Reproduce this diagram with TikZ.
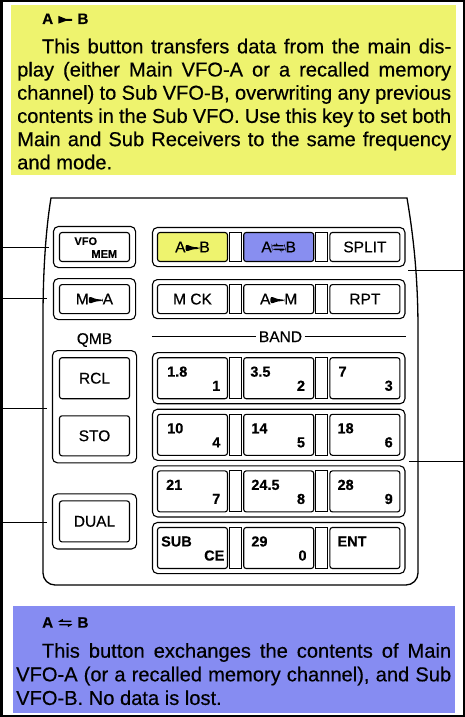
\documentclass[tikz,border=0pt]{standalone}
\usepackage{fontspec}
\setmainfont{Liberation Sans}[FakeBold=0.4]
\usetikzlibrary{positioning,fit}

\definecolor{noteyellow}{RGB}{238,243,110}
\definecolor{noteblue}{RGB}{134,140,242}
\definecolor{keyblue}{RGB}{136,142,240}

% small key symbols
\newcommand{\tosym}{\tikz[baseline=0pt]{\fill (0em,0.03em) -- (0em,0.53em) -- (0.5em,0.33em) -- (0.9em,0.33em)
  -- (0.9em,0.21em) -- (0.5em,0.21em) -- cycle;}}
\newcommand{\swapsym}{\tikz[baseline=0pt]{\fill (0em,0.42em) -- (0.28em,0.58em) -- (0.28em,0.47em) -- (0.85em,0.47em) -- (0.85em,0.38em) -- (0em,0.38em) -- cycle;
  \fill (0.9em,0.2em) -- (0.62em,0.04em) -- (0.62em,0.15em) -- (0.05em,0.15em) -- (0.05em,0.24em) -- (0.9em,0.24em) -- cycle;}}

\begin{document}
\begin{tikzpicture}[x=1pt,y=-1pt,
        key/.style={draw,line width=1.1pt,rounded corners=2.5pt,inner sep=0pt,
          minimum width=70pt,minimum height=29pt,font=\fontsize{15.5}{18}\selectfont},
        numkey/.style={key,minimum height=41pt},
        sepbar/.style={draw,line width=1.1pt,inner sep=0pt,minimum width=12pt,minimum height=29pt},
        numsep/.style={sepbar,minimum height=41pt},
        grp/.style={draw,line width=1.1pt,rounded corners=5pt,inner sep=4.5pt},
        tl/.style={anchor=base west,inner sep=0pt,xshift=8pt,yshift=-19.5pt,font=\bfseries\fontsize{14.5}{17}\selectfont},
        br/.style={anchor=base east,inner sep=0pt,xshift=-7.5pt,yshift=8.5pt,font=\bfseries\fontsize{14.5}{17}\selectfont},
        keytag/.style={inner sep=0pt,font=\bfseries\fontsize{11}{13}\selectfont},
        note/.style={anchor=base west,inner sep=0pt,text width=434pt,align=justify,font=\fontsize{20.1}{23.2}\selectfont},
        notetitle/.style={anchor=base west,inner sep=0pt,font=\bfseries\fontsize{15.2}{18}\selectfont},
        callout/.style={line width=0.9pt}]
        \useasboundingbox (0,0) rectangle (465,717);
        \fill[white] (0,0) rectangle (465,717);

        % A to B note
        \fill[noteyellow] (11,5) rectangle (456,175);
        \node[notetitle] (ttlab) at (42,24) {A\hspace{0.35em}\tosym\hspace{0.35em}B};
        \node[note] (txtab) at (17,53.3) {\tolerance=10000\hspace*{24.7pt}This button transfers data from the main dis-\linebreak
          play (either Main VFO-A or a recalled memory\linebreak
          channel) to Sub VFO-B, overwriting any previous\linebreak
          contents in the Sub VFO. Use this key to set both\linebreak
          Main and Sub Receivers to the same frequency\linebreak
          and mode.};

        % panel
        \draw[line width=1.3pt] (51,198) -- (407,198) .. controls (412,228) and (418,270) .. (418,330)
          [rounded corners=12pt] -- (418,585) -- (43,585) -- (43,330) [sharp corners]
          .. controls (43,270) and (46,228) .. (51,198) -- cycle;

        % top rows
        \node[key,fill=noteyellow] (ab) at (192.5,247) {A\tosym B};
        \node[sepbar] (s1) [right=1pt of ab] {};
        \node[key,fill=keyblue] (swap) [right=1pt of s1] {A\swapsym B};
        \node[sepbar] (s2) [right=1pt of swap] {};
        \node[key] (split) [right=1pt of s2] {SPLIT};
        \node[key] (mck) [below=22pt of ab] {M CK};
        \node[sepbar] (s3) [right=1pt of mck] {};
        \node[key] (am) [right=1pt of s3] {A\tosym M};
        \node[sepbar] (s4) [right=1pt of am] {};
        \node[key] (rpt) [right=1pt of s4] {RPT};

        % band keys
        \node[numkey,label={[tl,xshift=2pt]north west:1.8},label={[br]south east:1}] (b1) [below=43pt of mck] {};
        \node[numsep] (s5) [right=1pt of b1] {};
        \node[numkey,label={[tl,xshift=-1pt]north west:3.5},label={[br,xshift=-1.5pt]south east:2}] (b2) [right=1pt of s5] {};
        \node[numsep] (s6) [right=1pt of b2] {};
        \node[numkey,label={[tl,xshift=1pt]north west:7},label={[br]south east:3}] (b3) [right=1pt of s6] {};
        \node[numkey,label={[tl,xshift=2pt]north west:10},label={[br]south east:4}] (b4) [below=14.5pt of b1] {};
        \node[numsep] (s7) [right=1pt of b4] {};
        \node[numkey,label={[tl]north west:14},label={[br,xshift=-1.5pt]south east:5}] (b5) [right=1pt of s7] {};
        \node[numsep] (s8) [right=1pt of b5] {};
        \node[numkey,label={[tl]north west:18},label={[br]south east:6}] (b6) [right=1pt of s8] {};
        \node[numkey,label={[tl,xshift=1pt]north west:21},label={[br]south east:7}] (b7) [below=14.5pt of b4] {};
        \node[numsep] (s9) [right=1pt of b7] {};
        \node[numkey,label={[tl]north west:24.5},label={[br,xshift=-1.5pt]south east:8}] (b8) [right=1pt of s9] {};
        \node[numsep] (s10) [right=1pt of b8] {};
        \node[numkey,label={[tl]north west:28},label={[br]south east:9}] (b9) [right=1pt of s10] {};
        \node[numkey,label={[tl,xshift=-4pt]north west:SUB},label={[br,xshift=4pt]south east:CE}] (bsub) [below=14.5pt of b7] {};
        \node[numsep] (s11) [right=1pt of bsub] {};
        \node[numkey,label={[tl]north west:29},label={[br]south east:0}] (b0) [right=1pt of s11] {};
        \node[numsep] (s12) [right=1pt of b0] {};
        \node[numkey,label={[tl]north west:ENT}] (bent) [right=1pt of s12] {};

        \node[grp,fit=(ab)(split)] (row1) {};
        \node[grp,fit=(mck)(rpt)] (row2) {};
        \node[grp,fit=(b1)(b3)] (row3) {};
        \node[grp,fit=(b4)(b6)] (row4) {};
        \node[grp,fit=(b7)(b9)] (row5) {};
        \node[grp,fit=(bsub)(bent)] (row6) {};

        \node[font=\fontsize{15.5}{18}\selectfont,inner sep=2.5pt] (band) at (280.5,336.7) {BAND};
        \coordinate (bandl) at (row2.west |- band);
        \coordinate (bandr) at (row2.east |- band);
        \draw[line width=1pt] (bandl) -- (band) -- (bandr);

        % left column
        \node[key,label={[keytag,anchor=base west,xshift=15.3pt,yshift=-13pt]north west:VFO},
          label={[keytag,anchor=base east,xshift=-12.7pt,yshift=4.3pt]south east:MEM}] (vfo) at (94.5,247) {};
        \node[key] (ma) [below=22pt of vfo] {M\tosym A};
        \node[numkey] (rcl) [below=43pt of ma] {RCL};
        \node[numkey,minimum height=40pt] (sto) [below=16pt of rcl] {STO};
        \node[numkey] (dual) [below=44pt of sto] {DUAL};
        \node[grp,inner sep=5.5pt,fit=(vfo)] (gvfo) {};
        \node[grp,inner sep=5.5pt,fit=(ma)] (gma) {};
        \node[grp,inner sep=6.5pt,fit=(rcl)(sto)] (gqmb) {};
        \node[grp,inner sep=6.5pt,fit=(dual)] (gdual) {};
        \node[font=\fontsize{15.5}{18}\selectfont,inner sep=0pt] (qmb) [above=3pt of gqmb] {QMB};

        % callouts
        \coordinate (f1) at (1,247.3);   \coordinate (e1) at (49,247.3);
        \coordinate (f2) at (1,298);     \coordinate (e2) at (46.5,298);
        \coordinate (f3) at (1,408);     \coordinate (e3) at (46.5,408);
        \coordinate (f4) at (1,522);     \coordinate (e4) at (46.5,522);
        \coordinate (e5) at (408,270.7); \coordinate (f5) at (464,270.7);
        \coordinate (e6) at (409,461.7); \coordinate (f6) at (464,461.7);
        \draw[callout] (f1) -- (e1);
        \draw[callout] (f2) -- (e2);
        \draw[callout] (f3) -- (e3);
        \draw[callout] (f4) -- (e4);
        \draw[callout] (e5) -- (f5);
        \draw[callout] (e6) -- (f6);

        % A swap B note
        \fill[noteblue] (13,606) rectangle (455,713);
        \node[notetitle] (ttswap) at (42,627.7) {A\hspace{0.35em}\swapsym\hspace{0.35em}B};
        \node[note,text width=435pt,font=\fontsize{20.1}{23.6}\selectfont] (txtswap) at (16,657.7) {\tolerance=10000\hspace*{25.7pt}This button exchanges the contents of Main\linebreak
          VFO-A (or a recalled memory channel), and Sub\linebreak
          VFO-B. No data is lost.};

        \draw[line width=2.5pt] (1.25,1.25) rectangle (463.75,715.75);
\end{tikzpicture}
\end{document}
